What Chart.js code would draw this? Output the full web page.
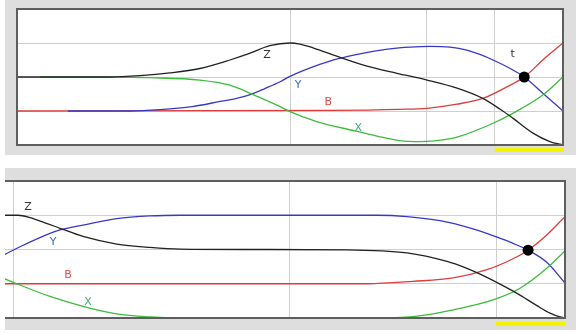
<!DOCTYPE html>
<html>
<head>
<meta charset="utf-8">
<script src="https://cdn.jsdelivr.net/npm/chart.js@4/dist/chart.umd.min.js"></script>
<style>
  body { margin: 0; background: #fff; }
  #top-wrap { position: absolute; left: 5px; top: 0; }
  #bottom-wrap { position: absolute; left: 5px; top: 168px; }
</style>
</head>
<body>
<div id="top-wrap"><canvas id="chart-top" width="571" height="155"></canvas></div>
<div id="bottom-wrap"><canvas id="chart-bottom" width="571" height="162"></canvas></div>
<script>
// ---- top panel data ----
const topZx = [0, 0.17, 0.225, 0.28, 0.335, 0.39, 0.427, 0.463, 0.5, 0.518, 0.542, 0.588, 0.641, 0.696, 0.751, 0.806, 0.853, 0.885, 0.908, 0.945, 0.976, 1];
const topZy = [2, 2, 2.04, 2.12, 2.25, 2.5, 2.7, 2.92, 3.0, 2.97, 2.86, 2.6, 2.32, 2.11, 1.91, 1.67, 1.37, 1.05, 0.79, 0.35, 0.1, 0];
const topXx = [0.042, 0.17, 0.244, 0.335, 0.39, 0.427, 0.482, 0.5, 0.549, 0.623, 0.665, 0.7, 0.74, 0.78, 0.806, 0.872, 0.908, 0.963, 1];
const topXy = [2, 2, 1.98, 1.91, 1.76, 1.52, 1.13, 0.98, 0.69, 0.4, 0.24, 0.13, 0.1, 0.15, 0.23, 0.64, 0.93, 1.47, 2.0];
const topYx = [0.093, 0.207, 0.262, 0.321, 0.372, 0.399, 0.427, 0.454, 0.482, 0.5, 0.537, 0.573, 0.61, 0.647, 0.683, 0.72, 0.756, 0.793, 0.824, 0.872, 0.929, 0.963, 1];
const topYy = [1, 1, 1.04, 1.13, 1.28, 1.36, 1.48, 1.66, 1.86, 2.02, 2.27, 2.47, 2.62, 2.74, 2.83, 2.88, 2.9, 2.88, 2.79, 2.5, 2.0, 1.52, 1.0];
const topBx = [0, 0.573, 0.701, 0.751, 0.806, 0.853, 0.897, 0.929, 0.963, 1];
const topBy = [1, 1.02, 1.05, 1.08, 1.2, 1.37, 1.71, 2.0, 2.5, 3.0];
const topDot = [0.929, 2.0];
const topLabels = ["Z", "Y", "B", "X", "t"];
const topLabelX = [0.458, 0.515, 0.57, 0.625, 0.908];
const topLabelY = [2.65, 1.76, 1.26, 0.5, 2.68];

// ---- bottom panel data ----
const botZx = [-0.016, 0.0076, 0.0293, 0.0565, 0.0838, 0.1255, 0.1866, 0.2471, 0.3015, 0.4285, 0.6045, 0.7133, 0.786, 0.8186, 0.846, 0.8821, 0.913, 0.9492, 0.9728, 0.9909, 1];
const botZy = [3, 3, 2.93, 2.78, 2.62, 2.38, 2.16, 2.06, 2.01, 2.0, 1.99, 1.9, 1.65, 1.47, 1.28, 0.99, 0.72, 0.36, 0.14, 0.03, 0];
const botYx = [-0.016, 0.0112, 0.0657, 0.0838, 0.1255, 0.1866, 0.2471, 0.3015, 0.659, 0.7133, 0.7732, 0.833, 0.8766, 0.9057, 0.933, 0.9674, 1];
const botYy = [1.86, 2.08, 2.47, 2.57, 2.71, 2.9, 2.98, 3.0, 3.0, 2.96, 2.84, 2.6, 2.36, 2.18, 1.98, 1.62, 1.02];
const botBx = [-0.016, 0.6408, 0.7242, 0.797, 0.8585, 0.9057, 0.933, 0.9674, 1];
const botBy = [1, 1, 1.07, 1.17, 1.41, 1.73, 1.98, 2.43, 2.96];
const botXx = [-0.016, 0.0021, 0.0657, 0.1255, 0.1866, 0.2471, 0.3015, 0.6517, 0.7242, 0.797, 0.8694, 0.9184, 0.9674, 1];
const botXy = [1.14, 1.02, 0.63, 0.34, 0.12, 0.03, 0, 0, 0.04, 0.24, 0.53, 0.87, 1.46, 1.96];
const botDot = [0.933, 1.98];
const botLabels = ["Z", "Y", "B", "X"];
const botLabelX = [0.0257, 0.0711, 0.0983, 0.1346];
const botLabelY = [3.25, 2.22, 1.26, 0.47];

const lineColors = { Z: "#222222", Y: "#3838c8", B: "#dd3b3b", X: "#3cbc3c" };
const textColors = { Z: "#333333", Y: "#3b6cc4", B: "#e34a4a", X: "#3cb36e", t: "#333333" };

const pts = (xs, ys) => xs.map((x, i) => ({ x: x, y: ys[i] }));

const line = (name, xs, ys, order) => ({
    label: name,
    data: pts(xs, ys),
    borderColor: lineColors[name],
    borderWidth: 1.3,
    pointRadius: 0,
    cubicInterpolationMode: "monotone",
    fill: false,
    order: order,
});

// panel frame, yellow bar and curve letters
const panelPlugin = {
    id: "panel",
    beforeDraw(c, args, opts) {
        const ctx = c.ctx;
        const a = c.chartArea;
        ctx.save();
        ctx.fillStyle = "#dedede";
        ctx.fillRect(0, 0, c.width, c.height);
        ctx.fillStyle = "#ffffff";
        ctx.fillRect(a.left, a.top, a.right - a.left, a.bottom - a.top);
        ctx.restore();
    },
    afterDraw(c, args, opts) {
        const ctx = c.ctx;
        const a = c.chartArea;
        const xs = c.scales.x;
        const ys = c.scales.y;
        ctx.save();
        // yellow bar under the last section
        ctx.fillStyle = "#f4f400";
        const x0 = xs.getPixelForValue(0.875);
        ctx.fillRect(x0, a.bottom + opts.barGap, a.right + 1 - x0, 4);
        // frame
        ctx.strokeStyle = "#5e5e5e";
        ctx.lineWidth = 2;
        ctx.beginPath();
        ctx.moveTo(opts.leftBorder ? a.left : 0, a.top);
        ctx.lineTo(a.right, a.top);
        ctx.lineTo(a.right, a.bottom);
        ctx.lineTo(opts.leftBorder ? a.left : 0, a.bottom);
        if (opts.leftBorder) ctx.closePath();
        ctx.stroke();
        // letters
        ctx.font = "11px 'DejaVu Sans'";
        ctx.textAlign = "center";
        ctx.textBaseline = "middle";
        opts.labels.forEach((t, i) => {
            ctx.fillStyle = textColors[t];
            ctx.fillText(t, xs.getPixelForValue(opts.lx[i]), ys.getPixelForValue(opts.ly[i]));
        });
        ctx.restore();
    },
};

const makeChart = (id, sets, xmin, xgrid, padding, panelOpts) => {
    return new Chart(document.getElementById(id), {
        type: "line",
        data: { datasets: sets },
        options: {
            responsive: false,
            animation: false,
            layout: { padding: padding, autoPadding: false },
            scales: {
                x: {
                    type: "linear",
                    min: xmin,
                    max: 1,
                    afterBuildTicks: (s) => { s.ticks = xgrid.map((v) => ({ value: v })); },
                    afterFit: (s) => { s.height = 0; },
                    ticks: { display: false },
                    grid: { color: "#cfcfcf", lineWidth: 1, drawTicks: false },
                    border: { display: false },
                },
                y: {
                    min: 0,
                    max: 4,
                    afterBuildTicks: (s) => { s.ticks = [1, 2, 3].map((v) => ({ value: v })); },
                    afterFit: (s) => { s.width = 0; },
                    ticks: { display: false },
                    grid: { color: "#cfcfcf", lineWidth: 1, drawTicks: false },
                    border: { display: false },
                },
            },
            plugins: {
                legend: { display: false },
                tooltip: { enabled: false },
                panel: panelOpts,
            },
        },
        plugins: [panelPlugin],
    });
};

const dot = (p) => ({
    label: "t",
    data: [{ x: p[0], y: p[1] }],
    showLine: false,
    pointRadius: 5.5,
    pointBackgroundColor: "#000",
    pointBorderWidth: 0,
    order: 0,
});

makeChart(
    "chart-top",
    [
        line("B", topBx, topBy, 4),
        line("Y", topYx, topYy, 3),
        line("X", topXx, topXy, 2),
        line("Z", topZx, topZy, 1),
        dot(topDot),
    ],
    0,
    [0.5, 0.75, 0.875],
    { left: 12, top: 9, right: 13, bottom: 10 },
    { labels: topLabels, lx: topLabelX, ly: topLabelY, leftBorder: true, barGap: 3 }
);

makeChart(
    "chart-bottom",
    [
        line("B", botBx, botBy, 4),
        line("Y", botYx, botYy, 3),
        line("X", botXx, botXy, 2),
        line("Z", botZx, botZy, 1),
        dot(botDot),
    ],
    -0.016,
    [0, 0.5, 0.875],
    { left: 0, top: 13, right: 11, bottom: 12 },
    { labels: botLabels, lx: botLabelX, ly: botLabelY, leftBorder: false, barGap: 4 }
);
</script>
</body>
</html>
